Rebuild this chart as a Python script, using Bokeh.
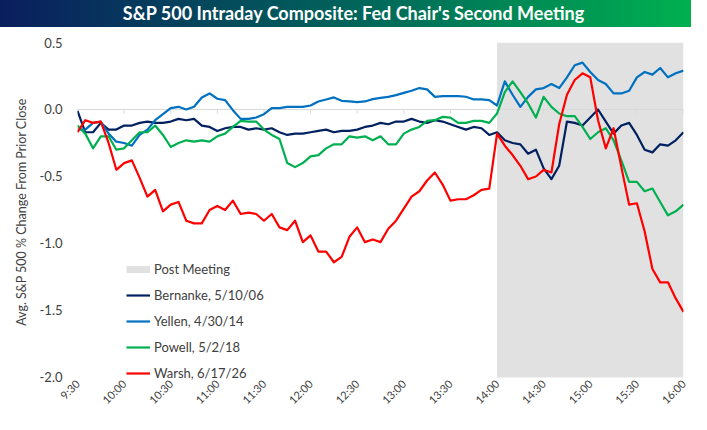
import math
from bokeh.plotting import figure
from bokeh.models import Range1d, FixedTicker, Legend, LegendItem, NumeralTickFormatter, Div
from bokeh.layouts import column
from bokeh.embed import file_html
from bokeh.resources import INLINE

# ---------------- data ----------------
title_text = "S&P 500 Intraday Composite: Fed Chair's Second Meeting"
y_label = "Avg. S&P 500 % Change From Prior Close"

# minutes after 9:30, sampled every 5 minutes (9:30 .. 16:00)
minutes = list(range(0, 391, 5))

tick_minutes = [0, 30, 60, 90, 120, 150, 180, 210, 240, 270, 300, 330, 360, 390]
tick_labels = ["9:30", "10:00", "10:30", "11:00", "11:30", "12:00", "12:30",
               "13:00", "13:30", "14:00", "14:30", "15:00", "15:30", "16:00"]
y_ticks = [-2.0, -1.5, -1.0, -0.5, 0.0, 0.5]

post_meeting_start = 270   # 14:00
post_meeting_end = 390     # 16:00

bernanke = [-0.01, -0.17, -0.17, -0.10, -0.15, -0.15, -0.12, -0.12, -0.10, -0.09,
            -0.10, -0.10, -0.09, -0.07, -0.08, -0.07, -0.12, -0.13, -0.16, -0.14,
            -0.13, -0.13, -0.15, -0.14, -0.15, -0.14, -0.17, -0.19, -0.18, -0.18,
            -0.17, -0.16, -0.15, -0.17, -0.16, -0.16, -0.15, -0.13, -0.12, -0.10,
            -0.11, -0.09, -0.09, -0.07, -0.09, -0.10, -0.08, -0.09, -0.11, -0.13,
            -0.15, -0.13, -0.14, -0.19, -0.17, -0.23, -0.25, -0.26, -0.33, -0.30,
            -0.44, -0.52, -0.42, -0.09, -0.10, -0.12, -0.06, 0.00, -0.09, -0.18,
            -0.12, -0.10, -0.19, -0.30, -0.32, -0.26, -0.27, -0.23, -0.17]

yellen = [-0.15, -0.15, -0.10, -0.09, -0.18, -0.24, -0.25, -0.27, -0.19, -0.15,
          -0.08, -0.035, 0.01, 0.02, 0.00, 0.02, 0.09, 0.12, 0.08, 0.07,
          -0.005, -0.07, -0.07, -0.06, -0.035, 0.01, 0.01, 0.02, 0.02, 0.02,
          0.03, 0.06, 0.075, 0.09, 0.065, 0.06, 0.055, 0.06, 0.077, 0.087,
          0.094, 0.107, 0.124, 0.14, 0.16, 0.15, 0.094, 0.10, 0.10, 0.10,
          0.095, 0.075, 0.075, 0.07, 0.03, 0.21, 0.11, 0.02, 0.094, 0.15,
          0.16, 0.19, 0.16, 0.24, 0.33, 0.35, 0.28, 0.22, 0.19, 0.12,
          0.12, 0.14, 0.24, 0.28, 0.26, 0.31, 0.24, 0.27, 0.29]

powell = [-0.12, -0.18, -0.29, -0.20, -0.20, -0.30, -0.29, -0.23, -0.17, -0.17,
          -0.12, -0.19, -0.28, -0.25, -0.23, -0.24, -0.23, -0.24, -0.20, -0.18,
          -0.13, -0.085, -0.09, -0.09, -0.15, -0.19, -0.22, -0.40, -0.43, -0.40,
          -0.35, -0.34, -0.29, -0.26, -0.26, -0.20, -0.21, -0.20, -0.23, -0.20,
          -0.26, -0.26, -0.18, -0.15, -0.13, -0.085, -0.08, -0.055, -0.06, -0.10,
          -0.10, -0.085, -0.085, -0.10, -0.03, 0.13, 0.21, 0.13, 0.045, -0.06,
          0.094, 0.02, -0.03, -0.05, -0.05, -0.13, -0.22, -0.17, -0.14, -0.23,
          -0.38, -0.54, -0.54, -0.61, -0.59, -0.69, -0.79, -0.76, -0.71]

warsh = [-0.17, -0.08, -0.10, -0.09, -0.25, -0.45, -0.40, -0.38, -0.51, -0.65,
         -0.60, -0.76, -0.71, -0.69, -0.83, -0.85, -0.85, -0.75, -0.72, -0.75,
         -0.68, -0.78, -0.77, -0.78, -0.83, -0.78, -0.88, -0.90, -0.83, -0.99,
         -0.94, -1.06, -1.06, -1.14, -1.10, -0.95, -0.88, -0.99, -0.97, -0.99,
         -0.89, -0.83, -0.74, -0.65, -0.61, -0.53, -0.47, -0.56, -0.68, -0.67,
         -0.67, -0.64, -0.60, -0.59, -0.18, -0.27, -0.34, -0.42, -0.52, -0.50,
         -0.45, -0.47, -0.11, 0.11, 0.22, 0.27, 0.24, -0.08, -0.29, -0.14,
         -0.43, -0.71, -0.70, -0.91, -1.19, -1.29, -1.29, -1.41, -1.51]

series_labels = ["Bernanke, 5/10/06", "Yellen, 4/30/14", "Powell, 5/2/18", "Warsh, 6/17/26"]
series_values = [bernanke, yellen, powell, warsh]
series_colors = ["#002060", "#0070C0", "#00B050", "#FF0000"]
post_label = "Post Meeting"

FONT = "Lato"
TEXT_COLOR = "#404040"
SHADE = "#E1E1E1"
W = 691

# ---------------- title bar ----------------
title = Div(text=title_text, render_as_text=True, width=W, height=27, margin=(0, 0, 0, 0),
            styles={
                "background": "linear-gradient(to right, #0A1E5E 0%, #006A5A 55%, #00B050 100%)",
                "color": "white",
                "font-family": "Lato",
                "font-weight": "bold",
                "font-size": "18px",
                "line-height": "27px",
                "text-align": "center",
                "padding-left": "16px",
                "box-sizing": "border-box",
                "white-space": "nowrap",
                "overflow": "hidden",
            })

# ---------------- main chart ----------------
p = figure(width=W, height=387, x_range=Range1d(0, 390), y_range=Range1d(-2.03, 0.5),
           toolbar_location=None, output_backend="svg",
           min_border_left=77, min_border_right=8, min_border_top=15, min_border_bottom=33)
p.grid.visible = False
p.outline_line_color = None
p.background_fill_color = "white"
p.border_fill_color = "white"

p.quad(left=[post_meeting_start], right=[post_meeting_end],
       bottom=[y_ticks[0]], top=[y_ticks[-1]], fill_color=SHADE, line_color=None)
p.hspan(y=[0], line_color="#D9D9D9", line_width=1)
p.segment(x0=tick_minutes, y0=[0] * len(tick_minutes), x1=tick_minutes,
          y1=[-0.03] * len(tick_minutes), line_color="#D9D9D9", line_width=1)

post_r = p.line(x=[float("nan")], y=[float("nan")], line_color=SHADE, line_width=7,
                line_cap="butt")
items = [LegendItem(label=post_label, renderers=[post_r])]
for lab, vals, col in zip(series_labels, series_values, series_colors):
    r = p.line(minutes, vals, line_color=col, line_width=2.2, line_join="round")
    items.append(LegendItem(label=lab, renderers=[r]))

legend = Legend(items=items, location=(49, 0), orientation="vertical",
                padding=0, margin=0, spacing=10, glyph_width=24, glyph_height=16,
                label_height=16, label_standoff=4,
                label_text_font=FONT, label_text_font_size="13px",
                label_text_color=TEXT_COLOR,
                border_line_color=None, background_fill_alpha=0)
p.add_layout(legend)

ya = p.yaxis[0]
ya.ticker = FixedTicker(ticks=y_ticks)
ya.formatter = NumeralTickFormatter(format="0.0")
ya.axis_line_color = None
ya.major_tick_line_color = None
ya.minor_tick_line_color = None
ya.major_tick_out = 0
ya.major_tick_in = 0
ya.minor_tick_out = 0
ya.major_label_text_font = FONT
ya.major_label_text_font_size = "13px"
ya.major_label_text_color = TEXT_COLOR
ya.major_label_standoff = 15
ya.axis_label = y_label
ya.axis_label_text_font = FONT
ya.axis_label_text_font_style = "normal"
ya.axis_label_text_font_size = "12.5px"
ya.axis_label_text_color = TEXT_COLOR
ya.axis_label_standoff = 8

xa = p.xaxis[0]
xa.ticker = FixedTicker(ticks=tick_minutes)
xa.major_label_overrides = {m: lab for m, lab in zip(tick_minutes, tick_labels)}
xa.major_label_orientation = math.pi / 4
xa.axis_line_color = None
xa.major_tick_line_color = None
xa.minor_tick_line_color = None
xa.major_tick_out = 0
xa.major_tick_in = 0
xa.minor_tick_out = 0
xa.major_label_text_font = FONT
xa.major_label_text_font_size = "11px"
xa.major_label_text_color = TEXT_COLOR
xa.major_label_standoff = 0

layout = column(title, p, spacing=0)
open("out.html", "w").write(file_html(layout, INLINE))
